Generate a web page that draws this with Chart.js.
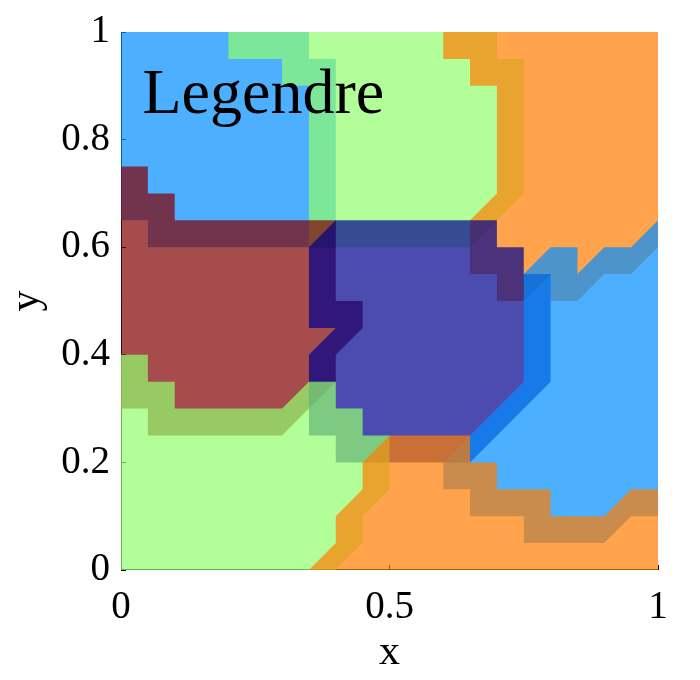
<!DOCTYPE html>
<html>
<head>
<meta charset="utf-8">
<script src="https://cdn.jsdelivr.net/npm/chart.js@4.4.0/dist/chart.umd.min.js"></script>
<style>
  html, body { margin: 0; padding: 0; background: #ffffff; }
  #wrap { width: 700px; height: 680px; }
</style>
</head>
<body>
<div id="wrap"><canvas id="c" width="700" height="680"></canvas></div>
<script>
// ---- data: class regions (boundary vertices in data units) ----
const region1 = [[0,1],[0,0.65],[0.05,0.65],[0.05,0.6],[0.4,0.6],[0.4,0.95],[0.35,0.95],[0.35,1]];
const region2 = [[0.2,1],[0.2,0.95],[0.3,0.95],[0.3,0.9],[0.35,0.9],[0.35,0.6],[0.65,0.6],[0.7,0.65],[0.75,0.7],[0.75,0.95],[0.7,0.95],[0.7,1]];
const region3 = [[0.6,1],[0.6,0.95],[0.65,0.95],[0.65,0.9],[0.7,0.9],[0.7,0.7],[0.65,0.65],[0.65,0.55],[0.7,0.55],[0.7,0.5],[0.75,0.5],[0.8,0.55],[0.8,0.5],[0.85,0.5],[0.9,0.55],[0.95,0.55],[1,0.6],[1,1]];
const region4 = [[0,0.75],[0,0.3],[0.05,0.3],[0.05,0.25],[0.3,0.25],[0.35,0.3],[0.4,0.35],[0.4,0.4],[0.45,0.45],[0.45,0.5],[0.4,0.5],[0.4,0.65],[0.1,0.65],[0.1,0.7],[0.05,0.7],[0.05,0.75]];
const region5 = [[0.35,0.6],[0.35,0.45],[0.4,0.45],[0.35,0.4],[0.35,0.25],[0.4,0.25],[0.4,0.2],[0.65,0.2],[0.8,0.35],[0.8,0.55],[0.75,0.55],[0.75,0.6],[0.7,0.6],[0.7,0.65],[0.4,0.65]];
const region6 = [[0.75,0.55],[0.75,0.35],[0.65,0.25],[0.6,0.2],[0.6,0.15],[0.65,0.15],[0.65,0.1],[0.75,0.1],[0.75,0.05],[0.9,0.05],[0.95,0.1],[1,0.1],[1,0.65],[0.95,0.6],[0.9,0.6],[0.85,0.55],[0.85,0.6],[0.8,0.6]];
const region7 = [[0,0],[0.4,0],[0.45,0.05],[0.45,0.1],[0.5,0.15],[0.5,0.25],[0.45,0.25],[0.45,0.3],[0.4,0.3],[0.4,0.35],[0.35,0.35],[0.3,0.3],[0.1,0.3],[0.1,0.35],[0.05,0.35],[0.05,0.4],[0,0.4]];
const region8 = [[0.35,0],[1,0],[1,0.15],[0.95,0.15],[0.9,0.1],[0.8,0.1],[0.8,0.15],[0.7,0.15],[0.7,0.2],[0.65,0.2],[0.65,0.25],[0.5,0.25],[0.45,0.2],[0.45,0.15],[0.4,0.1],[0.4,0.05]];

const regionLabels = ['class 1','class 2','class 3','class 4','class 5','class 6','class 7','class 8'];
const xTickValues = [0, 0.5, 1];
const xTickLabels = ['0', '0.5', '1'];
const yTickValues = [0, 0.2, 0.4, 0.6, 0.8, 1];
const yTickLabels = ['0', '0.2', '0.4', '0.6', '0.8', '1'];
const chartTitle = 'Legendre';
const xAxisTitle = 'x';
const yAxisTitle = 'y';

// ---- styles ----
const palette = [
  'rgba(0,141,255,0.7)',
  'rgba(146,255,109,0.7)',
  'rgba(255,126,0,0.7)',
  'rgba(128,0,0,0.7)',
  'rgba(0,0,142,0.7)'
];
const serif = '"Liberation Serif", "Times New Roman", serif';
const titlePos = { x: 0.04, y: 0.85 };

const regions = [region1, region2, region3, region4, region5, region6, region7, region8];

const datasets = regions.map((poly, k) => ({
  label: regionLabels[k],
  data: poly.concat([poly[0]]).map(p => ({ x: p[0], y: p[1] })),
  backgroundColor: palette[k % palette.length],
  borderColor: 'rgba(0,0,0,0)',
  borderWidth: 0,
  fill: 'shape',
  pointRadius: 0,
  pointHoverRadius: 0,
  tension: 0,
  order: regions.length - k
}));

const axisLinePlugin = {
  id: 'axisLines',
  beforeDatasetsDraw(chart) {
    const { ctx, chartArea: a } = chart;
    ctx.save();
    ctx.strokeStyle = '#000';
    ctx.lineWidth = 1;
    ctx.beginPath();
    ctx.moveTo(a.left + 0.5, a.top);
    ctx.lineTo(a.left + 0.5, a.bottom - 0.5);
    ctx.lineTo(a.right, a.bottom - 0.5);
    ctx.stroke();
    ctx.restore();
  }
};

const innerTitlePlugin = {
  id: 'innerTitle',
  afterDatasetsDraw(chart) {
    const { ctx, scales } = chart;
    ctx.save();
    ctx.fillStyle = '#000';
    ctx.font = '64px ' + serif;
    ctx.textAlign = 'left';
    ctx.textBaseline = 'alphabetic';
    ctx.fillText(chartTitle, scales.x.getPixelForValue(titlePos.x), scales.y.getPixelForValue(titlePos.y));
    ctx.restore();
  }
};

new Chart(document.getElementById('c'), {
  type: 'line',
  data: { datasets },
  plugins: [axisLinePlugin, innerTitlePlugin],
  options: {
    responsive: false,
    animation: false,
    devicePixelRatio: 1,
    layout: { padding: { left: 0, top: 32, right: 42, bottom: 0 } },
    plugins: { legend: { display: false }, tooltip: { enabled: false } },
    scales: {
      x: {
        type: 'linear', min: 0, max: 1,
        afterBuildTicks: s => { s.ticks = xTickValues.map(v => ({ value: v })); },
        afterFit: s => { s.height = 110; s.paddingLeft = 0; s.paddingRight = 0; },
        ticks: {
          callback: (v, i) => xTickLabels[i],
          font: { family: serif, size: 39 },
          color: '#000', padding: 19, maxRotation: 0, autoSkip: false
        },
        grid: { drawOnChartArea: false, tickLength: -5, tickColor: '#000', color: '#000' },
        border: { display: false },
        title: { display: true, text: xAxisTitle, color: '#000', font: { family: serif, size: 42 }, padding: { top: 0, bottom: 2 } }
      },
      y: {
        type: 'linear', min: 0, max: 1,
        afterBuildTicks: s => { s.ticks = yTickValues.map(v => ({ value: v })); },
        afterFit: s => { s.width = 121; s.paddingTop = 0; s.paddingBottom = 0; },
        ticks: {
          callback: (v, i) => yTickLabels[i],
          font: { family: serif, size: 39 },
          color: '#000', padding: 16, autoSkip: false
        },
        grid: { drawOnChartArea: false, tickLength: -5, tickColor: '#000', color: '#000' },
        border: { display: false },
        title: { display: true, text: yAxisTitle, color: '#000', font: { family: serif, size: 42 }, padding: { top: 2, bottom: 0 } }
      }
    }
  }
});
</script>
</body>
</html>
